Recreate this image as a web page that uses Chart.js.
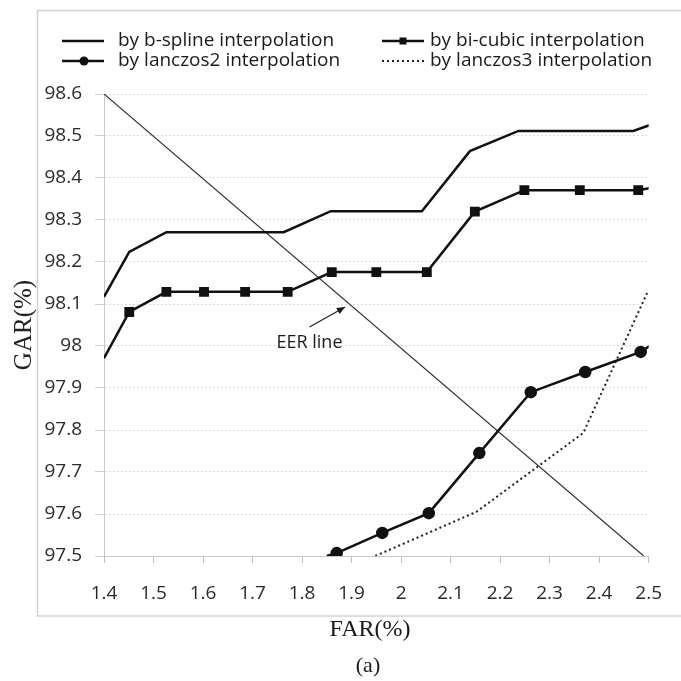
<!DOCTYPE html>
<html>
<head>
<meta charset="utf-8">
<script src="https://cdn.jsdelivr.net/npm/chart.js@4.4.1/dist/chart.umd.min.js"></script>
<style>
  body { margin: 0; background: #fff; }
  #wrap { width: 681px; height: 681px; }
</style>
</head>
<body>
<div id="wrap"><canvas id="garChart"></canvas></div>
<script>
// values (FAR %, GAR %)
const bsplineFar = [1.4, 1.451, 1.526, 1.763, 1.858, 2.042, 2.139, 2.237, 2.469, 2.502];
const bsplineGar = [98.117, 98.224, 98.271, 98.271, 98.321, 98.321, 98.464, 98.512, 98.512, 98.526];

const bicubicFar = [1.4, 1.451, 1.526, 1.602, 1.685, 1.771, 1.86, 1.95, 2.052, 2.149, 2.249, 2.361, 2.479, 2.502];
const bicubicGar = [97.971, 98.081, 98.129, 98.129, 98.129, 98.129, 98.176, 98.176, 98.176, 98.32, 98.371, 98.371, 98.371, 98.376];

const lanczos2Far = [1.85, 1.87, 1.962, 2.056, 2.158, 2.262, 2.372, 2.484, 2.502];
const lanczos2Gar = [97.5, 97.507, 97.555, 97.602, 97.745, 97.89, 97.938, 97.986, 98.0];

const lanczos3Far = [1.948, 2.152, 2.368, 2.498];
const lanczos3Gar = [97.5, 97.605, 97.793, 98.129];

const eerFar = [1.4, 2.49];
const eerGar = [98.6, 97.5];

const seriesLabels = [
    'by b-spline interpolation',
    'by bi-cubic interpolation',
    'by lanczos2 interpolation',
    'by lanczos3 interpolation'
];

const farMin = 1.4, farMax = 2.5;
const garMin = 97.5, garMax = 98.6;

const toPoints = (xs, ys) => xs.map((x, i) => ({ x: x, y: ys[i] }));

// no marker on points that sit on the plot edge
const markerRadius = r => ctx => {
    const p = ctx.raw;
    if (!p) return r;
    return (p.x <= farMin || p.x >= farMax || p.y <= garMin) ? 0 : r;
};

// "2" rather than "2.0", like the original
const tickText = v => String(Math.round(v * 10) / 10);

// frame, legend, annotation and the bottom captions
const figureExtras = {
    id: 'figureExtras',
    beforeDraw(chart) {
        const ctx = chart.ctx;
        ctx.save();
        ctx.strokeStyle = '#d2d2d2';
        ctx.lineWidth = 1.5;
        ctx.strokeRect(37.5, 10.5, 700, 605.5);
        ctx.restore();
    },
    afterDraw(chart) {
        const ctx = chart.ctx;
        const x = chart.scales.x, y = chart.scales.y;
        ctx.save();

        // legend, 2 columns x 2 rows
        const cols = [{ s: 62, t: 118 }, { s: 382, t: 430 }];
        const rows = [41, 61];
        chart.data.datasets.forEach((ds, i) => {
            if (i >= seriesLabels.length) return;
            const c = cols[i % 2], yy = rows[Math.floor(i / 2)];
            ctx.strokeStyle = ds.borderColor;
            ctx.lineWidth = ds.borderWidth;
            ctx.setLineDash(ds.borderDash || []);
            ctx.beginPath();
            ctx.moveTo(c.s, yy);
            ctx.lineTo(c.s + 42, yy);
            ctx.stroke();
            ctx.setLineDash([]);
            if (ds.legendMarker) {
                ctx.fillStyle = ds.borderColor;
                ctx.beginPath();
                if (ds.pointStyle === 'rect') {
                    ctx.rect(c.s + 21 - 3.5, yy - 3.5, 7, 7);
                } else {
                    ctx.arc(c.s + 22, yy, 4.5, 0, Math.PI * 2);
                }
                ctx.fill();
            }
            ctx.fillStyle = '#1a1a1a';
            ctx.font = '19px "Open Sans"';
            ctx.textAlign = 'left';
            ctx.textBaseline = 'middle';
            ctx.fillText(ds.label, c.t, yy);
        });

        // EER line note with arrow
        const tx = x.getPixelForValue(1.815), ty = y.getPixelForValue(98.007);
        const ax = x.getPixelForValue(1.815), ay = y.getPixelForValue(98.045);
        const hx = x.getPixelForValue(1.887), hy = y.getPixelForValue(98.093);
        ctx.fillStyle = '#1a1a1a';
        ctx.font = '18px "Open Sans"';
        ctx.textAlign = 'center';
        ctx.textBaseline = 'middle';
        ctx.fillText('EER line', tx, ty);
        ctx.strokeStyle = '#222';
        ctx.lineWidth = 1.2;
        ctx.beginPath();
        ctx.moveTo(ax, ay);
        ctx.lineTo(hx, hy);
        ctx.stroke();
        const ang = Math.atan2(hy - ay, hx - ax);
        ctx.beginPath();
        ctx.moveTo(hx, hy);
        ctx.lineTo(hx - 9 * Math.cos(ang - 0.4), hy - 9 * Math.sin(ang - 0.4));
        ctx.lineTo(hx - 9 * Math.cos(ang + 0.4), hy - 9 * Math.sin(ang + 0.4));
        ctx.closePath();
        ctx.fill();

        // x title and panel tag, centred on the frame
        ctx.font = '24px "Liberation Serif"';
        ctx.fillText('FAR(%)', 370, 630);
        ctx.font = '22px "Liberation Serif"';
        ctx.fillText('(a)', 368, 666);
        ctx.restore();
    }
};

new Chart(document.getElementById('garChart'), {
    type: 'line',
    data: {
        datasets: [{
            label: seriesLabels[0],
            data: toPoints(bsplineFar, bsplineGar),
            borderColor: '#111',
            borderWidth: 2.5,
            pointRadius: 0
        }, {
            label: seriesLabels[1],
            data: toPoints(bicubicFar, bicubicGar),
            borderColor: '#111',
            backgroundColor: '#111',
            borderWidth: 2.5,
            pointStyle: 'rect',
            pointRadius: markerRadius(5.2),
            legendMarker: true
        }, {
            label: seriesLabels[2],
            data: toPoints(lanczos2Far, lanczos2Gar),
            borderColor: '#111',
            backgroundColor: '#111',
            borderWidth: 2.5,
            pointStyle: 'circle',
            pointRadius: markerRadius(5),
            legendMarker: true
        }, {
            label: seriesLabels[3],
            data: toPoints(lanczos3Far, lanczos3Gar),
            borderColor: '#222',
            borderWidth: 2,
            borderDash: [2, 3],
            pointRadius: 0
        }, {
            label: 'EER',
            data: toPoints(eerFar, eerGar),
            borderColor: '#333',
            borderWidth: 1.2,
            pointRadius: 0
        }]
    },
    options: {
        responsive: true,
        maintainAspectRatio: false,
        animation: false,
        layout: { padding: { left: 0, right: 17, top: 94, bottom: 0 } },
        plugins: {
            legend: { display: false },
            tooltip: { enabled: false }
        },
        scales: {
            x: {
                type: 'linear',
                min: farMin,
                max: farMax,
                afterFit: s => { s.height = 125; },
                ticks: {
                    stepSize: 0.1,
                    padding: 19,
                    color: '#2a2a2a',
                    font: { family: 'Open Sans', size: 19 },
                    callback: tickText
                },
                grid: {
                    drawOnChartArea: false,
                    tickLength: 7,
                    tickColor: '#bdbdbd'
                },
                border: { color: '#c8c8c8' }
            },
            y: {
                min: garMin,
                max: garMax,
                afterFit: s => { s.width = 104; },
                title: {
                    display: true,
                    text: 'GAR(%)',
                    color: '#222',
                    font: { family: 'Liberation Serif', size: 25 },
                    padding: { top: 9, bottom: 0 }
                },
                ticks: {
                    stepSize: 0.1,
                    padding: 13,
                    color: '#2a2a2a',
                    font: { family: 'Open Sans', size: 19 },
                    callback: tickText
                },
                grid: {
                    color: '#dcdcdc',
                    tickLength: 9,
                    tickColor: '#d0d0d0'
                },
                border: { color: '#c8c8c8', dash: [2, 2] }
            }
        }
    },
    plugins: [figureExtras]
});
</script>
</body>
</html>
